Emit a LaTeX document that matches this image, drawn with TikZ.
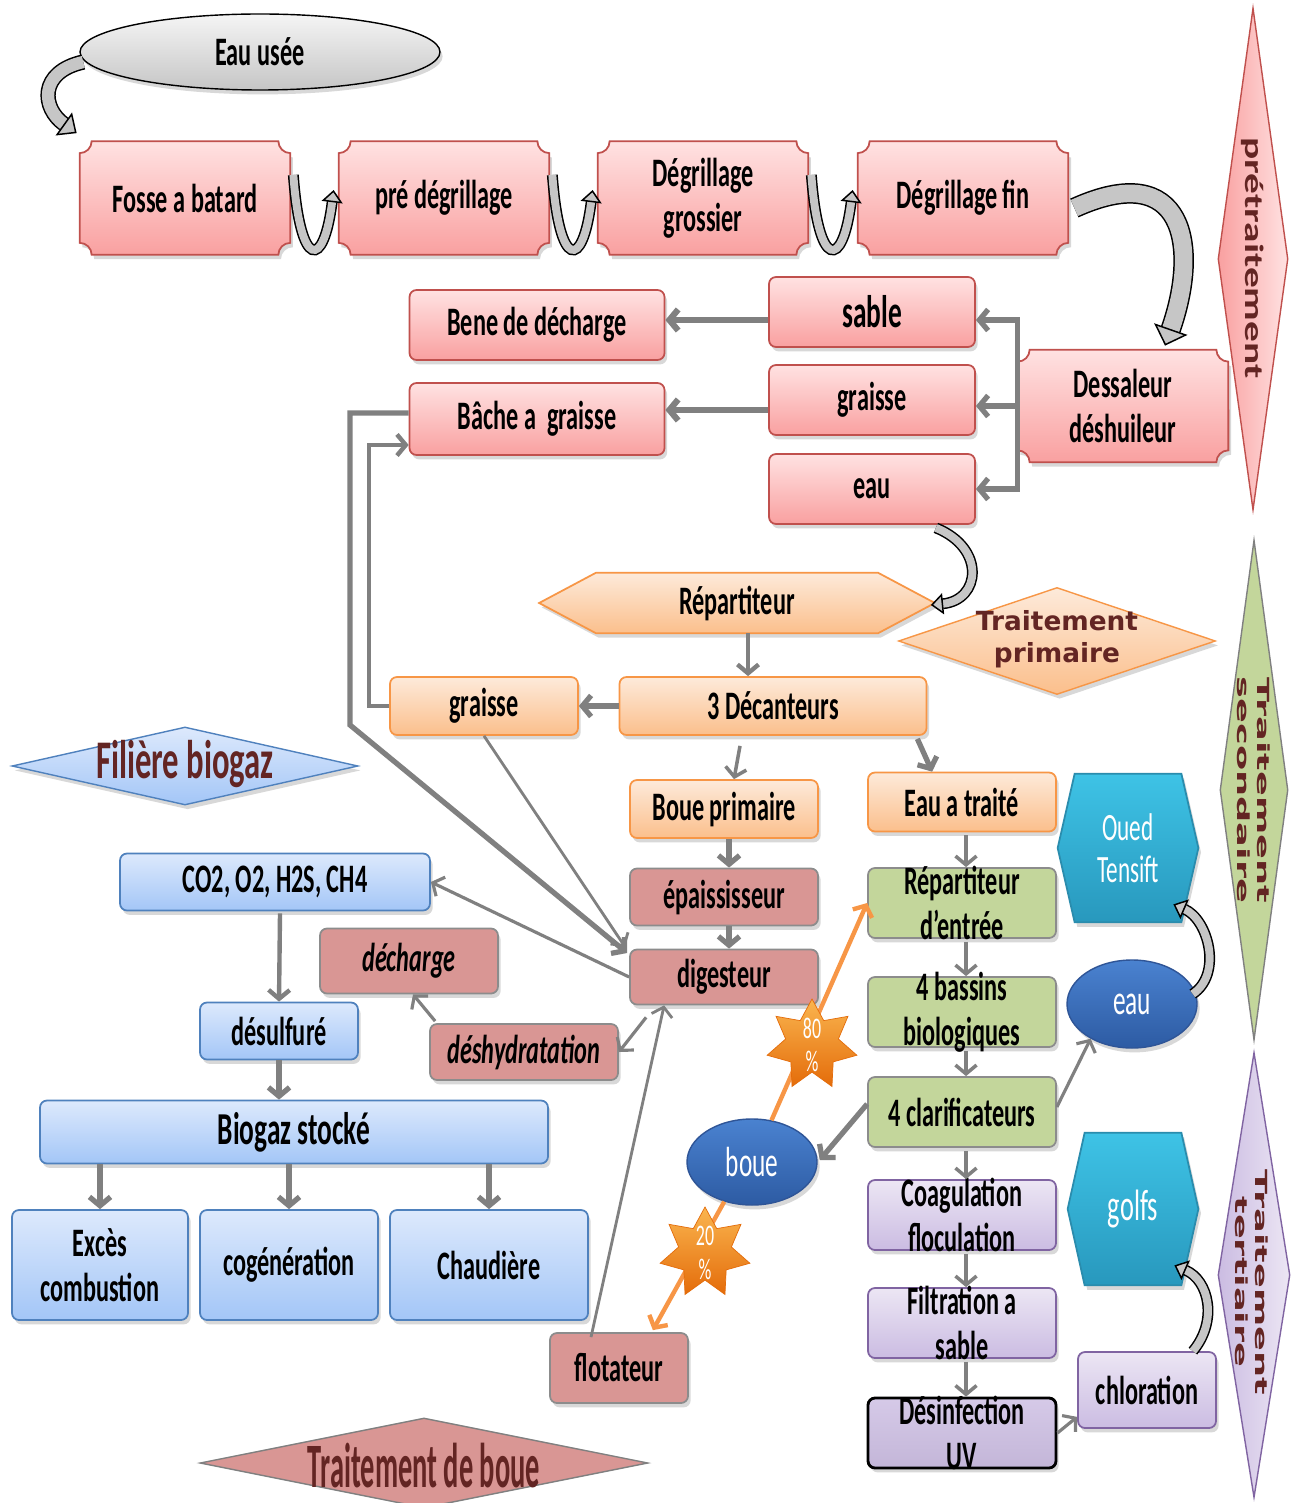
\documentclass[tikz,border=0pt]{standalone}
\usepackage{fontspec}
\usepackage{graphicx}
\usetikzlibrary{shapes.geometric,arrows.meta,calc,backgrounds,shadows}
\newfontfamily\cb[FakeStretch=0.6]{Carlito}
\newfontfamily\cbn{Carlito}
\newfontfamily\dvb{DejaVu Sans}
\newlength\pxu \setlength\pxu{0.02cm}
\definecolor{pkT}{HTML}{FFE2E2}\definecolor{pkB}{HTML}{F9A0A0}\definecolor{pkL}{HTML}{C0504D}
\definecolor{orT}{HTML}{FDEADA}\definecolor{orB}{HTML}{FBBF8C}\definecolor{orL}{HTML}{F79646}
\definecolor{roF}{HTML}{D99694}\definecolor{roL}{HTML}{8C8C8C}
\definecolor{grF}{HTML}{C3D69B}
\definecolor{puT}{HTML}{ECE6F4}\definecolor{puB}{HTML}{CBBCE2}\definecolor{puL}{HTML}{8064A2}
\definecolor{blT}{HTML}{DDE9FC}\definecolor{blB}{HTML}{A3C6F7}\definecolor{blL}{HTML}{4F81BD}
\definecolor{tlT}{HTML}{3EC3E6}\definecolor{tlB}{HTML}{2898BD}\definecolor{tlL}{HTML}{2A8CAD}
\definecolor{dbT}{HTML}{4A82D0}\definecolor{dbB}{HTML}{2D5BA3}\definecolor{dbL}{HTML}{2F5597}
\definecolor{dr}{HTML}{632523}
\definecolor{gA}{HTML}{808080}
\definecolor{orA}{HTML}{F79646}
\definecolor{stT}{HTML}{FAB54F}\definecolor{stB}{HTML}{E46C0A}
\newcommand\plaque[1]{%
 \path[draw=pkL, line width=1pt, top color=pkT, bottom color=pkB,
   drop shadow={opacity=.3,shadow xshift=1.5pt,shadow yshift=-2.5pt}]
  ($(#1.north west)+(0,12)$) arc[start angle=-90,end angle=0,radius=0.24cm]
  -- ($(#1.north east)+(-12,0)$) arc[start angle=180,end angle=270,radius=0.24cm]
  -- ($(#1.south east)+(0,-12)$) arc[start angle=90,end angle=180,radius=0.24cm]
  -- ($(#1.south west)+(12,0)$) arc[start angle=0,end angle=90,radius=0.24cm] -- cycle;}
\newcommand\hexa[4]{% name, indent, draw, style
 \path[draw=#3, line width=1pt, #4,
   drop shadow={opacity=.3,shadow xshift=1.5pt,shadow yshift=-2.5pt}]
  (#1.west) -- ($(#1.north west)+(#2,0)$) -- ($(#1.north east)+(-#2,0)$) -- (#1.east)
  -- ($(#1.south east)+(-#2,0)$) -- ($(#1.south west)+(#2,0)$) -- cycle;}
\begin{document}
\begin{tikzpicture}[x=0.02cm,y=-0.02cm,
  txt/.style={font=\cb\bfseries\fontsize{23}{25.5}\selectfont, align=center, inner sep=0pt},
  itx/.style={font=\cb\bfseries\itshape\fontsize{23}{25.5}\selectfont},
  sz/.style 2 args={minimum width=#1*\pxu, minimum height=#2*\pxu},
  shd/.style={drop shadow={opacity=.3,shadow xshift=1.5pt,shadow yshift=-2.5pt}},
  rb/.style={txt, rectangle, rounded corners=4pt, line width=1pt, shd},
  plq/.style={txt, rectangle, sz={210}{113}},
  pink/.style={rb, draw=pkL, top color=pkT, bottom color=pkB},
  orng/.style={rb, draw=orL, top color=orT, bottom color=orB},
  rose/.style={rb, draw=roL, fill=roF},
  grn/.style={rb, draw=roL, fill=grF},
  purp/.style={rb, draw=puL, top color=puT, bottom color=puB},
  blu/.style={rb, draw=blL, top color=blT, bottom color=blB},
  dmd/.style={diamond, inner sep=0pt, line width=0.8pt},
  elp/.style={ellipse, txt, line width=0.8pt, shd},
  ga/.style={draw=gA, line width=#1, -{Straight Barb[length=5pt,width=12pt]}},
  oa/.style={draw=orA, line width=2.5pt, -{Straight Barb[length=5pt,width=12pt]}},
  blk/.style={draw=black, line width=0.85pt, double=gray!45, double distance=4.5pt,
     -{Triangle[width=12pt,length=7pt,fill=gray!45,line width=0.85pt]}},
  blkM/.style={draw=black, line width=0.85pt, double=gray!45, double distance=7pt,
     -{Triangle[width=16pt,length=9pt,fill=gray!45,line width=0.85pt]}},
  blkL/.style={draw=black, line width=0.85pt, double=gray!45, double distance=10pt,
     -{Triangle[width=20pt,length=10pt,fill=gray!45,line width=0.85pt]}},
  wlab/.style={text=white, font=\cb\fontsize{22}{24}\selectfont},
  ]
\begin{scope}[on background layer]
\fill[white] (0,0) rectangle (1296,1503);
\end{scope}
\useasboundingbox (0,0) rectangle (1296,1503);

% ---------- side diamonds
\node[dmd, sz={70}{502}, draw=pkL, left color=pkB, right color=pkT] (pretr) at (1253,259) {};
\node[rotate=-90, inner sep=0, text=dr, font=\cbn\bfseries\fontsize{15}{18}\selectfont] (pretrT) at (1253,258) {\scalebox{1.57}[1]{prétraitement}};
\node[dmd, sz={68}{500}, draw=gray, fill=grF] (tsec) at (1254,790) {};
\node[rotate=-90, inner sep=0, text=dr, align=center, font=\dvb\bfseries\fontsize{9.5}{11.5}\selectfont] (tsecT) at (1254,790) {\scalebox{2.2}[1]{Traitement}\\\scalebox{2.2}[1]{secondaire}};
\node[dmd, sz={72}{445}, draw=puL, left color=puB, right color=puT] (tter) at (1254,1275) {};
\node[rotate=-90, inner sep=0, text=dr, align=center, font=\dvb\bfseries\fontsize{9.5}{11.5}\selectfont] (tterT) at (1252,1282) {\scalebox{2.2}[1]{Traitement}\\\scalebox{2.2}[1]{tertiaire}};

% ---------- top row
\node[elp, sz={360}{76}, draw=black, top color=gray!8, bottom color=gray!45] (usee) at (260,52) {Eau usée};
\node[plq] (fosse) at (185,198) {Fosse a batard};
\node[plq] (pre) at (444,198) {pré dégrillage};
\node[plq] (gros) at (703,198) {Dégrillage\\grossier};
\node[plq] (fin) at (963,198) {Dégrillage fin};
\node[plq, sz={210}{112}] (dess) at (1123,406) {Dessaleur\\déshuileur};

\node[pink, sz={255}{70}] (bene) at (537,325) {Bene de décharge};
\node[pink, sz={255}{72}] (bache) at (537,419) {Bâche a\ \ graisse};
\node[pink, sz={206}{70}, font=\cb\bfseries\fontsize{26}{28}\selectfont] (sable) at (872,312) {sable};
\node[pink, sz={206}{70}] (gr1) at (872,400) {graisse};
\node[pink, sz={206}{70}] (eau1) at (872,489) {eau};

% ---------- primary
\node[txt, sz={395}{60}] (rep) at (737,603) {Répartiteur};
\node[dmd, sz={317}{107}, draw=orL, top color=orT, bottom color=orB, shd] (tprim) at (1057,641) {};
\node[align=center, inner sep=0, text=dr, font=\dvb\bfseries\fontsize{15}{18}\selectfont] (tprimT) at (1057,639) {Traitement\\primaire};
\node[orng, sz={188}{58}] (gr2) at (484,706) {graisse};
\node[orng, sz={307}{58}] (dec3) at (773,706) {3 Décanteurs};
\node[orng, sz={188}{58}] (boueP) at (724,809) {Boue primaire};
\node[orng, sz={188}{59}] (eauT) at (962,802) {Eau a traité};

% ---------- sludge
\node[rose, sz={188}{57}] (epais) at (724,897) {épaississeur};
\node[rose, sz={188}{55}] (dig) at (724,977) {digesteur};
\node[rose, itx, sz={178}{65}] (dech) at (409,961) {décharge};
\node[rose, itx, sz={188}{56}] (deshy) at (524,1052) {déshydratation};
\node[rose, sz={138}{70}] (flot) at (619,1368) {flotateur};
\node[dmd, sz={448}{90}, draw=gray, fill=roF] (tboue) at (424,1463) {};
\node[inner sep=0, text=dr, font=\cb\bfseries\fontsize{36}{40}\selectfont] (tboueT) at (424,1466) {\scalebox{0.75}[1]{Traitement de boue}};

% ---------- secondary
\node[grn, sz={188}{70}, label={[txt]center:Répartiteur\\d’entrée}] (repE) at (962,903) {};
\node[grn, sz={188}{70}, label={[txt]center:4 bassins\\biologiques}] (bass) at (962,1012) {};
\node[grn, sz={188}{70}] (clar) at (962,1112) {4 clarificateurs};
\node[txt, wlab, sz={140}{148}] (oued) at (1128,848) {Oued\\Tensift};
\node[elp, wlab, sz={130}{88}, draw=dbL, top color=dbT, bottom color=dbB, font=\cb\fontsize{24}{26}\selectfont] (eau2) at (1132,1004) {eau};
\node[elp, wlab, sz={130}{86}, draw=dbL, top color=dbT, bottom color=dbB, font=\cb\fontsize{24}{26}\selectfont] (boue) at (752,1162) {boue};

% ---------- tertiary
\node[purp, sz={188}{70}, label={[txt]center:Coagulation\\floculation}] (coag) at (962,1215) {};
\node[purp, sz={188}{70}, label={[txt]center:Filtration a\\sable}] (filt) at (962,1323) {};
\node[rb, sz={188}{70}, draw=black, line width=1.6pt, top color=puB!80!white, bottom color=puB!90!gray, label={[txt]center:Désinfection\\UV}] (desinf) at (962,1433) {};
\node[purp, sz={138}{76}] (chlor) at (1147,1390) {chloration};
\node[txt, wlab, sz={130}{152}, font=\cb\fontsize{25}{27}\selectfont] (golfs) at (1133,1209) {golfs};

% ---------- biogas
\node[dmd, sz={346}{78}, draw=blL, top color=blT, bottom color=blB, shd] (fbio) at (185,766) {};
\node[inner sep=0, text=dr, font=\cb\bfseries\fontsize{31}{34}\selectfont] (fbioT) at (185,764) {Filière biogaz};
\node[blu, sz={310}{57}] (co2) at (275,882) {CO2, O2, H2S, CH4};
\node[blu, sz={158}{57}] (desulf) at (279,1031) {désulfuré};
\node[blu, sz={508}{63}, font=\cb\bfseries\fontsize{26}{28}\selectfont] (biogaz) at (294,1132) {Biogaz stocké};
\node[blu, sz={176}{110}] (exces) at (100,1265) {Excès\\combustion};
\node[blu, sz={178}{110}] (coge) at (289,1265) {cogénération};
\node[blu, sz={198}{110}] (chaud) at (489,1265) {Chaudière};

% ---------- shapes behind text
\begin{scope}[on background layer]
\plaque{fosse}\plaque{pre}\plaque{gros}\plaque{fin}\plaque{dess}
\hexa{rep}{57}{orL}{top color=orT, bottom color=orB}
\hexa{oued}{17}{tlL}{top color=tlT, bottom color=tlB}
\hexa{golfs}{17}{tlL}{top color=tlT, bottom color=tlB}
\end{scope}

% ---------- block arrows
\draw[blkM] ($(usee.west)+(4,10)$) .. controls +(-45,10) and +(-35,-25) .. ($(fosse.north west)+(-3,-8)$);
\draw[blk] ($(fosse.east)+(3,-23)$) .. controls +(7,95) and +(-10,80) .. ($(pre.west)+(-5,-8)$);
\draw[blk] ($(pre.east)+(3,-23)$) .. controls +(7,95) and +(-10,80) .. ($(gros.west)+(-5,-8)$);
\draw[blk] ($(gros.east)+(3,-23)$) .. controls +(7,95) and +(-10,80) .. ($(fin.west)+(-5,-8)$);
\draw[blkL] ($(fin.east)+(6,10)$) .. controls +(110,-50) and +(35,-100) .. ($(dess.north)+(42,-4)$);
\draw[blk] ($(eau1.south east)+(-40,3)$) .. controls +(50,20) and +(50,-5) .. ($(rep.east)+(-4,2)$);
\draw[blk] ($(eau2.east)+(-5,-10)$) .. controls +(30,-20) and +(35,15) .. ($(oued.south east)+(-25,-18)$);
\draw[blk] ($(chlor.north east)+(-24,0)$) .. controls +(25,-30) and +(35,15) .. ($(golfs.south east)+(-24,-20)$);

% ---------- gray connectors
\draw[ga=3pt] (dess.west) |- ($(sable.east)+(0,8)$);
\draw[ga=3pt] (dess.west) -- (dess.west -| gr1.east);
\draw[ga=3pt] (dess.west) |- (eau1.east);
\draw[ga=3.5pt] ($(sable.west)+(0,8)$) -- ($(bene.east)+(0,-5)$);
\draw[ga=3.5pt] ($(gr1.west)+(0,10)$) -- ($(bache.east)+(0,-9)$);
\coordinate (b1) at (350,725);
\draw[ga=3pt] ($(bache.west)+(0,-6)$) -| (b1) -- ($(dig.west)+(-2,-24)$);
\draw[ga=2.5pt] (gr2.west) -- ++(-20,0) |- ($(bache.west)+(0,26)$);
\draw[ga=1.6pt] (gr2.south) -- ($(dig.west)+(-4,-30)$);
\draw[ga=1.8pt] (dig.west) -- (co2.east);
\draw[ga=2.5pt] ($(rep.south)+(11,0)$) -- ($(dec3.north)+(-25,0)$);
\draw[ga=3pt] (dec3.west) -- (gr2.east);
\draw[ga=2pt] ($(dec3.south)+(-33,10)$) -- ($(boueP.north)+(10,0)$);
\draw[ga=3pt] ($(dec3.south east)+(-10,3)$) -- ($(eauT.north west)+(65,0)$);
\draw[ga=3pt] ($(boueP.south)+(5,0)$) -- ($(epais.north)+(5,0)$);
\draw[ga=3pt] ($(epais.south)+(5,0)$) -- ($(dig.north)+(5,0)$);
\draw[ga=1.8pt] ($(dig.south west)+(17,12)$) -- (deshy.east);
\draw[ga=1.8pt] ($(deshy.north west)+(6,-2)$) -- ($(dech.south)+(4,0)$);
\draw[ga=1.6pt] ($(flot.north)+(-28,5)$) -- ($(dig.south west)+(35,0)$);
\draw[ga=2.5pt] ($(co2.south)+(5,2)$) -- (desulf.north);
\draw[ga=3pt] (desulf.south) -- (desulf.south |- biogaz.north);
\draw[ga=3pt] (exces.north |- biogaz.south) -- (exces.north);
\draw[ga=3pt] (coge.north |- biogaz.south) -- (coge.north);
\draw[ga=3pt] (chaud.north |- biogaz.south) -- (chaud.north);
\draw[ga=2pt] ($(eauT.south)+(4,3)$) -- ($(repE.north)+(4,0)$);
\draw[ga=2pt] ($(repE.south)+(4,3)$) -- ($(bass.north)+(4,0)$);
\draw[ga=2pt] ($(bass.south)+(4,3)$) -- ($(clar.north)+(4,0)$);
\draw[ga=2pt] ($(clar.south)+(4,3)$) -- ($(coag.north)+(4,0)$);
\draw[ga=2pt] ($(coag.south)+(4,3)$) -- ($(filt.north)+(4,0)$);
\draw[ga=2pt] ($(filt.south)+(4,3)$) -- ($(desinf.north)+(4,0)$);
\draw[ga=1.8pt] ($(clar.east)+(0,-5)$) -- (eau2.220);
\draw[ga=3pt] ($(clar.west)+(0,-8)$) -- ($(boue.east)+(2,-2)$);
\draw[ga=1.8pt] (desinf.east) -- ($(chlor.south west)+(0,-12)$);

% ---------- orange connectors and stars
\draw[oa] (boue.65) -- (repE.west);
\draw[oa] (boue.235) -- ($(flot.north east)+(-36,-2)$);
\node[star, star points=7, star point ratio=1.7, minimum size=92*\pxu, inner sep=0pt, draw=stB, top color=stT, bottom color=stB] (s80) at (812,1045) {};
\node[txt, text=white, font=\cb\fontsize{17}{19}\selectfont] (s80T) at (s80) {80\\\%};
\node[star, star points=7, star point ratio=1.7, minimum size=92*\pxu, inner sep=0pt, draw=stB, top color=stT, bottom color=stB] (s20) at (705,1253) {};
\node[txt, text=white, font=\cb\fontsize{17}{19}\selectfont] (s20T) at (s20) {20\\\%};
\end{tikzpicture}
\end{document}
